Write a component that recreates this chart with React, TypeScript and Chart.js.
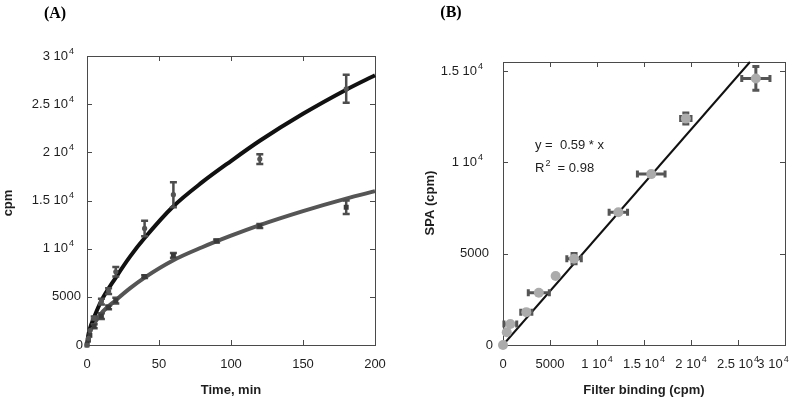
import React, { useEffect, useRef } from "react";
import { Chart, registerables } from "chart.js";
Chart.register(...registerables);

// ---------- Panel A data ----------
const timeUpper = [0, 1, 2, 5, 10, 15, 20, 40, 60, 120, 180];
const cpmUpper = [0, 700, 1500, 2800, 4500, 5600, 7600, 12100, 15600, 19300, 26600];
const errUpper = [0, 0, 0, 150, 300, 300, 500, 800, 1300, 500, 1450];

const timeLower = [0, 1, 2, 5, 10, 15, 20, 40, 60, 90, 120, 180];
const cpmLower = [0, 500, 1000, 1950, 3000, 3900, 4600, 7100, 9300, 10800, 12350, 14300];
const errLower = [0, 0, 0, 200, 300, 200, 300, 150, 250, 150, 200, 700];

const fitTime = [0, 1, 2, 5, 10, 20, 30, 40, 60, 80, 100, 120, 150, 180, 200];
const fitUpper = [0, 1100, 1700, 2900, 4600, 7000, 9200, 11100, 14400, 16900, 19100, 21200, 24000, 26500, 28000];
const fitLower = [0, 900, 1350, 2200, 3300, 4650, 5900, 7000, 8800, 10150, 11350, 12450, 13900, 15200, 15970];

const xTicksA = [0, 50, 100, 150, 200];
const xLabelsA = ["0", "50", "100", "150", "200"];
const yTicksA = [0, 5000, 10000, 15000, 20000, 25000, 30000];
const yLabelBaseA = ["0", "5000", "1 10", "1.5 10", "2 10", "2.5 10", "3 10"];
const yLabelSupA = ["", "", "4", "4", "4", "4", "4"];

// ---------- Panel B data ----------
const filterBinding = [26900, 19450, 15770, 12270, 7560, 5600, 3810, 2480, 780, 400, 0];
const spaCpm = [14600, 12400, 9360, 7270, 4730, 3780, 2860, 1800, 1150, 700, 0];
const filterErr = [1500, 550, 1470, 980, 770, 0, 1120, 590, 680, 0, 0];
const spaErr = [650, 300, 0, 0, 280, 0, 0, 0, 0, 0, 0];

const fitX = [0, 26270];
const fitY = [0, 15500];

const xTicksB = [0, 5000, 10000, 15000, 20000, 25000, 30000];
const xLabelBaseB = ["0", "5000", "1 10", "1.5 10", "2 10", "2.5 10", "3 10"];
const xLabelSupB = ["", "", "4", "4", "4", "4", "4"];
const yTicksB = [0, 5000, 10000, 15000];
const yLabelBaseB = ["0", "5000", "1 10", "1.5 10"];
const yLabelSupB = ["", "", "4", "4"];

const SANS = '"Liberation Sans", Arial, Helvetica, sans-serif';
const SERIF = '"Liberation Serif", "Times New Roman", serif';
const TEXT = "#1e1e1e";
const FRAME = "#4a4a4a";

function drawRich(ctx: CanvasRenderingContext2D, base: string, sup: string, suffix: string,
  x: number, y: number, align: string, size: number) {
  const bf = `${size}px ${SANS}`;
  const sf = `${Math.round(size * 0.72)}px ${SANS}`;
  ctx.font = bf;
  const wb = ctx.measureText(base).width;
  const wx = suffix ? ctx.measureText(suffix).width : 0;
  ctx.font = sf;
  const ws = sup ? ctx.measureText(sup).width + 1 : 0;
  const total = wb + ws + wx;
  let left = x;
  if (align === "right") left = x - total;
  else if (align === "center") left = x - total / 2;
  ctx.textAlign = "left";
  ctx.textBaseline = "middle";
  ctx.fillStyle = TEXT;
  ctx.font = bf;
  ctx.fillText(base, left, y);
  if (sup) {
    ctx.font = sf;
    ctx.fillText(sup, left + wb + 1, y - size * 0.38);
  }
  if (suffix) {
    ctx.font = bf;
    ctx.fillText(suffix, left + wb + ws, y);
  }
}

function makePlugin(cfg: any) {
  return {
    id: "panel" + cfg.name,
    beforeDatasetsDraw(chart: any) {
      const { ctx, chartArea: a, scales } = chart;
      ctx.save();
      ctx.strokeStyle = FRAME;
      ctx.lineWidth = 1;
      ctx.strokeRect(Math.round(a.left) + 0.5, Math.round(a.top) + 0.5,
        Math.round(a.right - a.left), Math.round(a.bottom - a.top));
      const tl = 5;
      ctx.beginPath();
      cfg.xTicks.forEach((v: number) => {
        const px = Math.round(scales.x.getPixelForValue(v)) + 0.5;
        ctx.moveTo(px, a.bottom); ctx.lineTo(px, a.bottom - tl);
        ctx.moveTo(px, a.top); ctx.lineTo(px, a.top + tl);
      });
      cfg.yTicks.forEach((v: number) => {
        const py = Math.round(scales.y.getPixelForValue(v)) + 0.5;
        ctx.moveTo(a.left, py); ctx.lineTo(a.left + tl, py);
        ctx.moveTo(a.right, py); ctx.lineTo(a.right - tl, py);
      });
      ctx.stroke();
      ctx.restore();
    },
    beforeDatasetDraw(chart: any, args: any) {
      const eb = cfg.errorBars[args.index];
      if (!eb) return;
      const { ctx, scales } = chart;
      ctx.save();
      ctx.strokeStyle = eb.color;
      ctx.lineWidth = eb.width;
      ctx.lineCap = "butt";
      const cap = eb.cap;
      eb.xs.forEach((xv: number, i: number) => {
        const yv = eb.ys[i];
        const px = scales.x.getPixelForValue(xv);
        const py = scales.y.getPixelForValue(yv);
        const ey = eb.ey ? eb.ey[i] : 0;
        const ex = eb.ex ? eb.ex[i] : 0;
        ctx.beginPath();
        if (ey > 0) {
          const y1 = scales.y.getPixelForValue(yv + ey);
          const y2 = scales.y.getPixelForValue(yv - ey);
          ctx.moveTo(px, y1); ctx.lineTo(px, y2);
          ctx.moveTo(px - cap, y1); ctx.lineTo(px + cap, y1);
          ctx.moveTo(px - cap, y2); ctx.lineTo(px + cap, y2);
        }
        if (ex > 0) {
          const x1 = scales.x.getPixelForValue(xv - ex);
          const x2 = scales.x.getPixelForValue(xv + ex);
          ctx.moveTo(x1, py); ctx.lineTo(x2, py);
          ctx.moveTo(x1, py - cap); ctx.lineTo(x1, py + cap);
          ctx.moveTo(x2, py - cap); ctx.lineTo(x2, py + cap);
        }
        ctx.stroke();
      });
      ctx.restore();
    },
    afterDraw(chart: any) {
      const { ctx, chartArea: a, scales } = chart;
      ctx.save();
      cfg.xTicks.forEach((v: number, i: number) => {
        const px = scales.x.getPixelForValue(v);
        const lastShift = i === cfg.xTicks.length - 1 ? cfg.lastXShift || 0 : 0;
        drawRich(ctx, cfg.xBase[i], cfg.xSup[i], "", px + lastShift, a.bottom + 19, "center", 13);
      });
      cfg.yTicks.forEach((v: number, i: number) => {
        const py = scales.y.getPixelForValue(v);
        const off = cfg.ySup[i] ? cfg.ySupOff : (v === 0 ? cfg.yZeroOff : cfg.yPlainOff);
        drawRich(ctx, cfg.yBase[i], cfg.ySup[i], "", a.left - off, py, "right", 13);
      });
      ctx.fillStyle = TEXT;
      ctx.font = `bold 13px ${SANS}`;
      ctx.textAlign = "center";
      ctx.textBaseline = "middle";
      ctx.fillText(cfg.xTitle, cfg.xTitlePos[0], cfg.xTitlePos[1]);
      ctx.save();
      ctx.translate(cfg.yTitlePos[0], cfg.yTitlePos[1]);
      ctx.rotate(-Math.PI / 2);
      ctx.fillText(cfg.yTitle, 0, 0);
      ctx.restore();
      ctx.font = `bold 16px ${SERIF}`;
      ctx.fillStyle = "#000";
      ctx.fillText(cfg.panelTitle, cfg.panelTitlePos[0], cfg.panelTitlePos[1]);
      if (cfg.extra) cfg.extra(ctx);
      ctx.restore();
    },
  };
}

function useChart(ref: any, build: () => any) {
  useEffect(() => {
    const chart = new Chart(ref.current, build());
    return () => chart.destroy();
  }, []);
}

function PanelA() {
  const ref = useRef<HTMLCanvasElement>(null);
  useChart(ref, () => ({
    type: "scatter",
    data: {
      datasets: [
        {
          data: timeUpper.map((t, i) => ({ x: t, y: cpmUpper[i] })),
          pointStyle: "circle", pointRadius: 2.6, backgroundColor: "#555", borderColor: "#555",
          borderWidth: 0, clip: false,
        },
        {
          data: timeLower.map((t, i) => ({ x: t, y: cpmLower[i] })),
          pointStyle: "rect", pointRadius: 3.5, backgroundColor: "#3a3a3a", borderColor: "#3a3a3a",
          borderWidth: 0, clip: false,
        },
        {
          data: fitTime.map((t, i) => ({ x: t, y: fitUpper[i] })),
          showLine: true, pointRadius: 0, borderColor: "#111", borderWidth: 4,
          cubicInterpolationMode: "monotone", clip: false,
        },
        {
          data: fitTime.map((t, i) => ({ x: t, y: fitLower[i] })),
          showLine: true, pointRadius: 0, borderColor: "#555", borderWidth: 4,
          cubicInterpolationMode: "monotone", clip: false,
        },
      ],
    },
    options: {
      responsive: false,
      animation: false,
      events: [],
      layout: { padding: { left: 87, right: 25, top: 56, bottom: 56 } },
      plugins: { legend: { display: false }, tooltip: { enabled: false } },
      scales: {
        x: { type: "linear", min: 0, max: 200, display: false },
        y: { type: "linear", min: 0, max: 30000, display: false },
      },
    },
    plugins: [
      makePlugin({
        name: "A",
        xTicks: xTicksA, xBase: xLabelsA, xSup: xLabelsA.map(() => ""),
        yTicks: yTicksA, yBase: yLabelBaseA, ySup: yLabelSupA,
        ySupOff: 13, yPlainOff: 6, yZeroOff: 4,
        xTitle: "Time, min", xTitlePos: [231, 390],
        yTitle: "cpm", yTitlePos: [8, 203],
        panelTitle: "(A)", panelTitlePos: [55, 14],
        errorBars: {
          0: { xs: timeUpper, ys: cpmUpper, ey: errUpper, color: "#4d4d4d", width: 2.5, cap: 3.5 },
          1: { xs: timeLower, ys: cpmLower, ey: errLower, color: "#4d4d4d", width: 2.5, cap: 3.5 },
        },
      }),
    ],
  }));
  return <canvas ref={ref} width={400} height={401} style={{ position: "absolute", left: 0, top: 0 }} />;
}

function PanelB() {
  const ref = useRef<HTMLCanvasElement>(null);
  useChart(ref, () => ({
    type: "scatter",
    data: {
      datasets: [
        {
          data: filterBinding.map((x, i) => ({ x, y: spaCpm[i] })),
          pointStyle: "circle", pointRadius: 5, backgroundColor: "#ababab", borderColor: "#ababab",
          borderWidth: 0, clip: false,
        },
        {
          data: fitX.map((x, i) => ({ x, y: fitY[i] })),
          showLine: true, pointRadius: 0, borderColor: "#111", borderWidth: 2, clip: false,
        },
      ],
    },
    options: {
      responsive: false,
      animation: false,
      events: [],
      layout: { padding: { left: 103, right: 14, top: 62, bottom: 56 } },
      plugins: { legend: { display: false }, tooltip: { enabled: false } },
      scales: {
        x: { type: "linear", min: 0, max: 30000, display: false },
        y: { type: "linear", min: 0, max: 15500, display: false },
      },
    },
    plugins: [
      makePlugin({
        name: "B",
        xTicks: xTicksB, xBase: xLabelBaseB, xSup: xLabelSupB, lastXShift: -12,
        yTicks: yTicksB, yBase: yLabelBaseB, ySup: yLabelSupB,
        ySupOff: 20, yPlainOff: 14, yZeroOff: 10,
        xTitle: "Filter binding (cpm)", xTitlePos: [244, 390],
        yTitle: "SPA (cpm)", yTitlePos: [30, 203],
        panelTitle: "(B)", panelTitlePos: [51, 13],
        errorBars: {
          0: { xs: filterBinding, ys: spaCpm, ex: filterErr, ey: spaErr, color: "#555", width: 3, cap: 3.5 },
        },
        extra: (ctx: CanvasRenderingContext2D) => {
          drawRich(ctx, "y =  0.59 * x", "", "", 135, 145, "left", 13);
          drawRich(ctx, "R", "2", "  = 0.98", 135, 168, "left", 13);
        },
      }),
    ],
  }));
  return <canvas ref={ref} width={399} height={401} style={{ position: "absolute", left: 400, top: 0 }} />;
}

export default function App() {
  return (
    <div style={{ position: "fixed", left: 0, top: 0, width: 799, height: 401, background: "#fff" }}>
      <PanelA />
      <PanelB />
    </div>
  );
}
